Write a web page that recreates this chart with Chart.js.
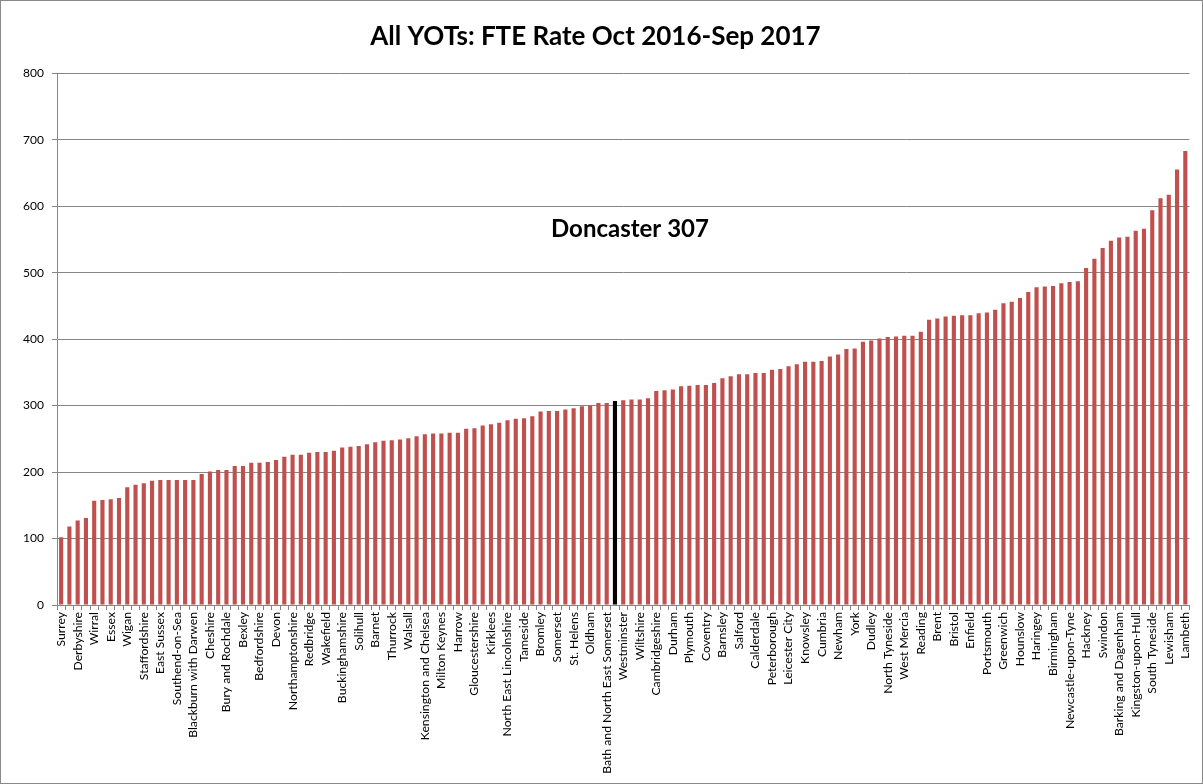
<!DOCTYPE html>
<html>
<head>
<meta charset="utf-8">
<script src="https://cdn.jsdelivr.net/npm/chart.js@4"></script>
<style>
  body { margin: 0; background: #fff; }
  #wrap { width: 1201px; height: 782px; border: 1px solid #898989; }
</style>
</head>
<body>
<div id="wrap"><canvas id="fteChart" width="1201" height="782"></canvas></div>
<script>
// every other category name is hidden on the axis, as in the original
const categories = [
    'Surrey', '', 'Derbyshire', '', 'Wirral', '', 'Essex', '', 'Wigan', '',
    'Staffordshire', '', 'East Sussex', '', 'Southend-on-Sea', '', 'Blackburn with Darwen', '', 'Cheshire', '',
    'Bury and Rochdale', '', 'Bexley', '', 'Bedfordshire', '', 'Devon', '', 'Northamptonshire', '',
    'Redbridge', '', 'Wakefield', '', 'Buckinghamshire', '', 'Solihull', '', 'Barnet', '',
    'Thurrock', '', 'Walsall', '', 'Kensington and Chelsea', '', 'Milton Keynes', '', 'Harrow', '',
    'Gloucestershire', '', 'Kirklees', '', 'North East Lincolnshire', '', 'Tameside', '', 'Bromley', '',
    'Somerset', '', 'St. Helens', '', 'Oldham', '', 'Bath and North East Somerset', 'Doncaster', 'Westminster', '',
    'Wiltshire', '', 'Cambridgeshire', '', 'Durham', '', 'Plymouth', '', 'Coventry', '',
    'Barnsley', '', 'Salford', '', 'Calderdale', '', 'Peterborough', '', 'Leicester City', '',
    'Knowsley', '', 'Cumbria', '', 'Newham', '', 'York', '', 'Dudley', '',
    'North Tyneside', '', 'West Mercia', '', 'Reading', '', 'Brent', '', 'Bristol', '',
    'Enfield', '', 'Portsmouth', '', 'Greenwich', '', 'Hounslow', '', 'Haringey', '',
    'Birmingham', '', 'Newcastle-upon-Tyne', '', 'Hackney', '', 'Swindon', '', 'Barking and Dagenham', '',
    'Kingston-upon-Hull', '', 'South Tyneside', '', 'Lewisham', '', 'Lambeth'
];

const fteRate = [
    102, 118, 127, 131, 157, 158, 159, 161, 177, 181,
    183, 187, 188, 188, 188, 188, 188, 197, 201, 203,
    203, 209, 209, 214, 214, 215, 218, 223, 226, 226,
    229, 230, 230, 232, 237, 238, 239, 242, 245, 247,
    248, 249, 251, 254, 257, 258, 258, 259, 259, 265,
    266, 270, 272, 274, 278, 280, 281, 284, 291, 292,
    292, 294, 296, 299, 300, 304, 304, 307, 308, 309,
    309, 311, 322, 323, 324, 329, 330, 331, 331, 334,
    341, 344, 347, 347, 349, 349, 354, 355, 359, 362,
    366, 366, 367, 374, 377, 385, 386, 396, 398, 401,
    403, 404, 405, 405, 411, 429, 431, 434, 435, 436,
    436, 439, 440, 444, 454, 456, 462, 471, 478, 479,
    480, 484, 486, 487, 507, 521, 537, 548, 553, 554,
    563, 566, 594, 612, 617, 655, 683
];

const highlight = 'Doncaster';
const yTicks = [0, 100, 200, 300, 400, 500, 600, 700, 800];

const barColours = categories.map(c => c === highlight ? '#000000' : '#C0504D');

// writes "Doncaster 307" over the chart
const calloutPlugin = {
    id: 'callout',
    afterDraw(chart) {
        const i = categories.indexOf(highlight);
        const x = chart.scales.x.getPixelForValue(i) + 15;
        const y = chart.scales.y.getPixelForValue(565);
        const ctx = chart.ctx;
        ctx.save();
        ctx.font = 'bold 24px Lato';
        ctx.fillStyle = '#000';
        ctx.textAlign = 'center';
        ctx.textBaseline = 'middle';
        ctx.fillText(`${highlight} ${fteRate[i]}`, x, y);
        ctx.restore();
    }
};

const ctx = document.getElementById('fteChart').getContext('2d');
new Chart(ctx, {
    type: 'bar',
    data: {
        labels: categories,
        datasets: [{
            data: fteRate,
            backgroundColor: barColours,
            categoryPercentage: 1,
            barPercentage: 0.5
        }]
    },
    options: {
        responsive: false,
        animation: false,
        layout: { padding: { left: 0, right: 12, top: 0, bottom: 0 } },
        plugins: {
            legend: { display: false },
            tooltip: { enabled: false },
            title: {
                display: true,
                text: 'All YOTs: FTE Rate Oct 2016-Sep 2017',
                color: '#000',
                font: { family: 'Lato', size: 26, weight: 'bold' },
                padding: { top: 20, bottom: 21 }
            }
        },
        scales: {
            x: {
                grid: { drawOnChartArea: false, offset: true, tickLength: 5, color: '#868686' },
                border: { color: '#868686' },
                ticks: {
                    autoSkip: false,
                    minRotation: 90,
                    maxRotation: 90,
                    padding: 2,
                    color: '#000',
                    font: { family: 'Lato', size: 12.2 },
                    callback: (val, idx) => idx % 2 === 0 ? categories[idx] : ''
                },
                afterFit: (scale) => { scale.height = 178; }
            },
            y: {
                min: yTicks[0],
                max: yTicks[yTicks.length - 1],
                grid: { color: '#868686', tickLength: 5 },
                border: { color: '#868686' },
                afterBuildTicks: (scale) => { scale.ticks = yTicks.map(v => ({ value: v })); },
                ticks: {
                    padding: 8,
                    color: '#000',
                    font: { family: 'Lato', size: 12 }
                },
                afterFit: (scale) => { scale.width = 56; }
            }
        }
    },
    plugins: [calloutPlugin]
});
</script>
</body>
</html>
